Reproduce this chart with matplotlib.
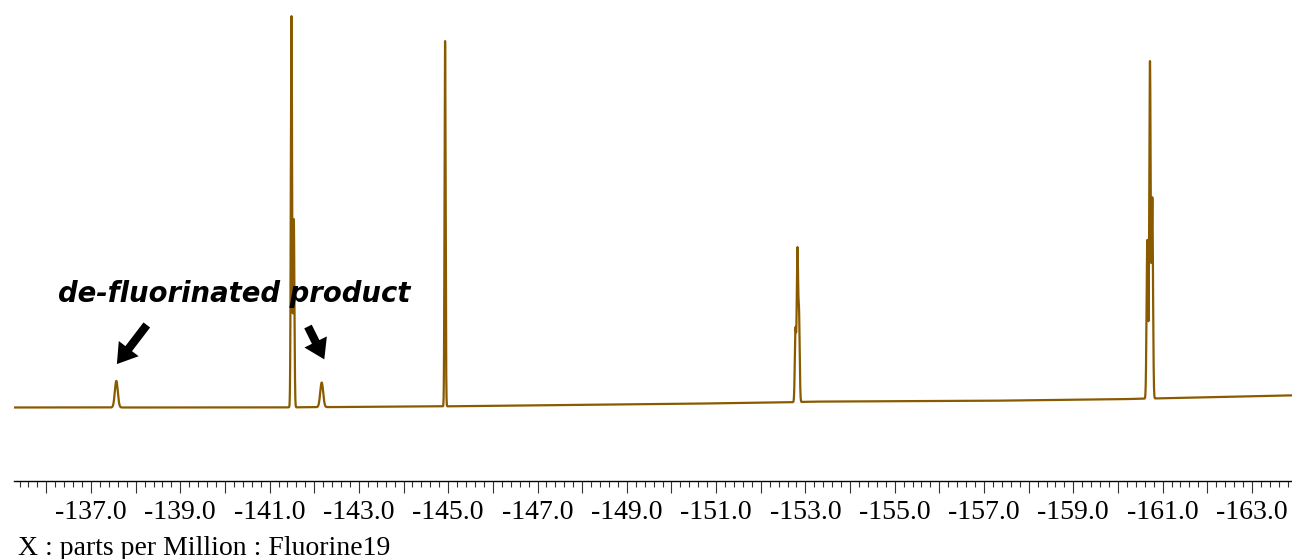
"""19F NMR spectrum with the de-fluorinated product peaks marked."""

import matplotlib

matplotlib.use("Agg")
import matplotlib.pyplot as plt
import numpy as np
from matplotlib.ticker import FuncFormatter, MultipleLocator

# peak list (ppm, height in % of tallest line, width sigma in ppm)
peak_ppm = [-137.567, -141.490, -141.542, -142.167, -144.93,
            -152.778, -152.821, -152.857, -160.657, -160.717, -160.769]
peak_height = [6.8, 100.0, 48.0, 6.3, 93.4,
               18.5, 38.0, 22.0, 40.5, 86.0, 51.0]
peak_sigma = [0.033, 0.014, 0.014, 0.033, 0.012,
              0.015, 0.015, 0.015, 0.016, 0.016, 0.016]

# slow baseline drift (ppm, level)
base_ppm = [-135.28, -141.0, -145.0, -150.0, -152.5, -153.2, -157.0, -160.0, -163.9]
base_level = [0.0, 0.0, 0.3, 0.9, 1.3, 1.5, 1.7, 2.1, 3.1]

XMIN, XMAX = -135.2755, -163.898
LINE = "#8a5a00"
TICK_FONT = "Liberation Serif"

# annotation: arrow tails/tips (ppm, level) pointing at the two small peaks
arrow_tail = [(-138.25, 21.1), (-141.86, 20.7)]
arrow_tip = [(-137.58, 11.1), (-142.225, 12.3)]
label_pos = (-136.26, 27.1)


def spectrum(x):
    y = np.interp(-x, [-v for v in base_ppm], base_level)
    for p, h, s in zip(peak_ppm, peak_height, peak_sigma):
        y = y + h * np.exp(-((x - p) ** 2) / (2 * s**2))
    return y


def main():
    fig = plt.figure(figsize=(12.92, 5.59), dpi=100)
    W, H = 1292, 559
    ax = fig.add_axes([14 / W, 78 / H, 1278 / W, 481 / H])

    x = np.linspace(XMIN, XMAX, 40000)
    ax.plot(x, spectrum(x), color=LINE, lw=1.6)
    ax.set_xlim(XMIN, XMAX)
    ax.set_ylim(-18.8, 104.2)

    for s in ("left", "right", "top"):
        ax.spines[s].set_visible(False)
    ax.spines["bottom"].set_linewidth(1.0)
    ax.set_yticks([])
    ax.xaxis.set_major_locator(MultipleLocator(1))
    ax.xaxis.set_minor_locator(MultipleLocator(0.2))
    ax.xaxis.set_major_formatter(
        FuncFormatter(lambda v, _: f"{v:.1f}" if round(v) % 2 else "")
    )
    ax.tick_params(axis="x", which="major", length=8.6, width=0.8, color="#333",
                   pad=5, labelsize=20)
    ax.tick_params(axis="x", which="minor", length=4.1, width=0.8, color="#333")
    for lab in ax.get_xticklabels():
        lab.set_family(TICK_FONT)

    fig.text(18 / W, 4 / H, "X : parts per Million : Fluorine19",
             family=TICK_FONT, fontsize=20, va="baseline", ha="left")

    ax.text(*label_pos, "de-fluorinated product", fontsize=19.8, fontweight="bold",
            fontstyle="italic", family="DejaVu Sans", va="baseline", ha="left")
    for tail, tip in zip(arrow_tail, arrow_tip):
        ax.annotate("", xy=tip, xytext=tail,
                    arrowprops=dict(width=6, headwidth=18, headlength=14,
                                    facecolor="black", edgecolor="black", lw=0))

    fig.savefig("out.png", dpi=100)
    plt.close(fig)


if __name__ == "__main__":
    main()
